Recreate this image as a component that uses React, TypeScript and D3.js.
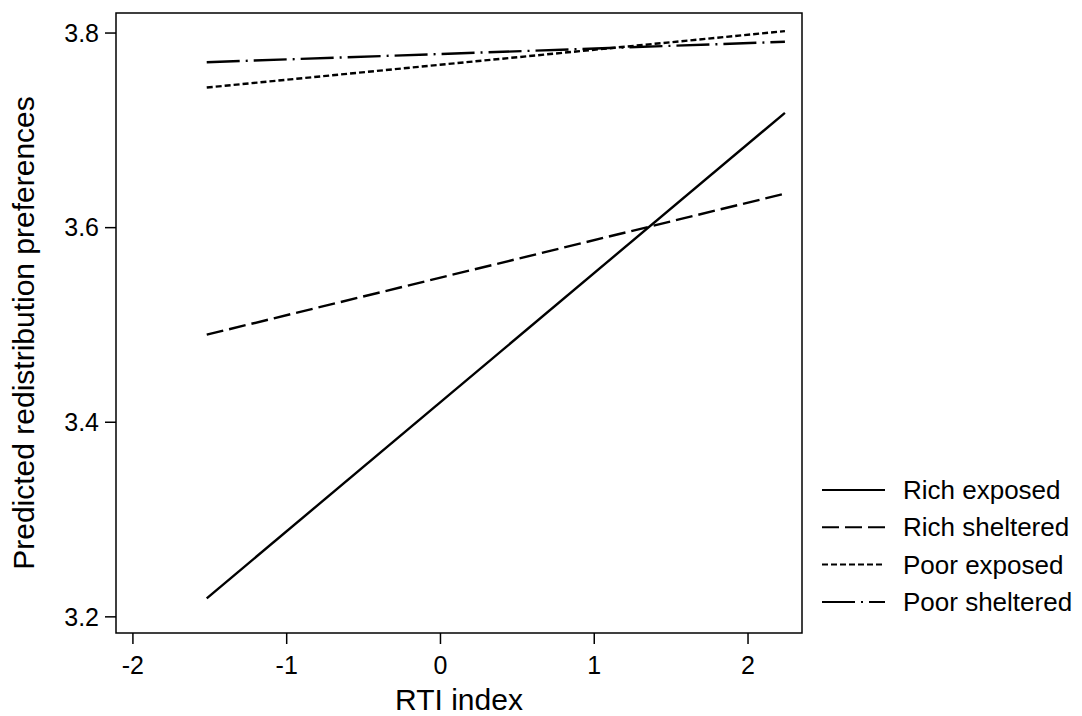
import { useEffect, useRef } from "react";
import * as d3 from "d3";

// RTI index endpoints of the fitted lines
const rtiValues = [-1.52, 2.24];

const seriesNames = ["Rich exposed", "Rich sheltered", "Poor exposed", "Poor sheltered"];
const richExposed = [3.219, 3.718];
const richSheltered = [3.49, 3.635];
const poorExposed = [3.744, 3.802];
const poorSheltered = [3.77, 3.791];

const xTicks = [-2, -1, 0, 1, 2];
const yTicks = [3.2, 3.4, 3.6, 3.8];

const dashes = ["none", "17,6", "6,3", "33,6,2,6"];
const FONT = "'Liberation Sans', Arial, sans-serif";

export default function App() {
  const ref = useRef<SVGSVGElement | null>(null);

  useEffect(() => {
    const svg = d3.select(ref.current);
    svg.selectAll("*").remove();

    const x = d3.scaleLinear().domain([-2.11, 2.351]).range([116, 802]);
    const y = d3.scaleLinear().domain([3.1834, 3.8206]).range([633, 13]);

    const allSeries = [richExposed, richSheltered, poorExposed, poorSheltered];

    // frame
    svg
      .append("rect")
      .attr("x", x.range()[0])
      .attr("y", y.range()[1])
      .attr("width", x.range()[1] - x.range()[0])
      .attr("height", y.range()[0] - y.range()[1])
      .attr("fill", "none")
      .attr("stroke", "black")
      .attr("stroke-width", 1.5);

    // x axis ticks
    const xAxis = svg.append("g");
    xTicks.forEach((t) => {
      xAxis
        .append("line")
        .attr("x1", x(t))
        .attr("x2", x(t))
        .attr("y1", y.range()[0])
        .attr("y2", y.range()[0] + 11)
        .attr("stroke", "black")
        .attr("stroke-width", 1.5);
      xAxis
        .append("text")
        .attr("x", x(t))
        .attr("y", 665)
        .attr("dy", "0.35em")
        .attr("text-anchor", "middle")
        .style("font-family", FONT)
        .style("font-size", "25px")
        .text(d3.format("d")(t).replace("−", "-"));
    });

    // y axis ticks
    const yAxis = svg.append("g");
    yTicks.forEach((t) => {
      yAxis
        .append("line")
        .attr("x1", x.range()[0] - 11)
        .attr("x2", x.range()[0])
        .attr("y1", y(t))
        .attr("y2", y(t))
        .attr("stroke", "black")
        .attr("stroke-width", 1.5);
      yAxis
        .append("text")
        .attr("x", 99)
        .attr("y", y(t))
        .attr("dy", "0.35em")
        .attr("text-anchor", "end")
        .style("font-family", FONT)
        .style("font-size", "25px")
        .text(t.toFixed(1));
    });

    // lines
    const line = d3
      .line<number>()
      .x((d, i) => x(rtiValues[i]))
      .y((d) => y(d));

    allSeries.forEach((s, i) => {
      svg
        .append("path")
        .attr("d", line(s))
        .attr("fill", "none")
        .attr("stroke", "black")
        .attr("stroke-width", 2.4)
        .attr("stroke-dasharray", dashes[i]);
    });

    // axis titles
    svg
      .append("text")
      .attr("x", (x.range()[0] + x.range()[1]) / 2)
      .attr("y", 710)
      .attr("text-anchor", "middle")
      .style("font-family", FONT)
      .style("font-size", "30px")
      .text("RTI index");

    svg
      .append("text")
      .attr("transform", "translate(34," + 333 + ")rotate(-90)")
      .attr("text-anchor", "middle")
      .style("font-family", FONT)
      .style("font-size", "30px")
      .text("Predicted redistribution preferences");

    // legend
    const legend = svg.append("g");
    seriesNames.forEach((name, i) => {
      const ly = 490 + i * 37.3;
      legend
        .append("line")
        .attr("x1", 822)
        .attr("x2", 885)
        .attr("y1", ly)
        .attr("y2", ly)
        .attr("stroke", "black")
        .attr("stroke-width", 2)
        .attr("stroke-dasharray", dashes[i]);
      legend
        .append("text")
        .attr("x", 903)
        .attr("y", ly)
        .attr("dy", "0.35em")
        .style("font-family", FONT)
        .style("font-size", "26px")
        .text(name);
    });
  }, []);

  return (
    <svg
      ref={ref}
      width={1082}
      height={716}
      style={{ position: "absolute", left: 0, top: 0, background: "white" }}
    />
  );
}
